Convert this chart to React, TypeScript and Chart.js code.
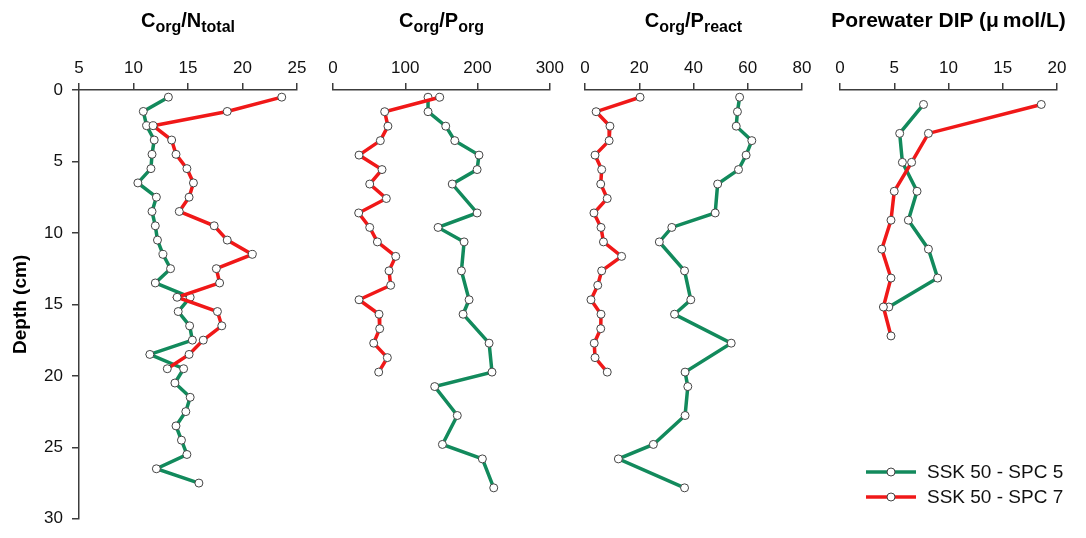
import React, { useEffect, useRef } from "react";
import { Chart, registerables } from "chart.js";

Chart.register(...registerables);

// ---------- data ----------
const cnGreenDepth = [0.5, 1.5, 2.5, 3.5, 4.5, 5.5, 6.5, 7.5, 8.5, 9.5, 10.5, 11.5, 12.5, 13.5, 14.5, 15.5, 16.5, 17.5, 18.5, 19.5, 20.5, 21.5, 22.5, 23.5, 24.5, 25.5, 26.5, 27.5];
const cnGreen = [13.2, 10.9, 11.2, 11.9, 11.7, 11.6, 10.4, 12.1, 11.7, 12.0, 12.2, 12.7, 13.4, 12.0, 15.2, 14.1, 15.15, 15.4, 11.5, 14.6, 13.8, 15.2, 14.8, 13.9, 14.4, 14.9, 12.1, 16.0];
const cnRedDepth = [0.5, 1.5, 2.5, 3.5, 4.5, 5.5, 6.5, 7.5, 8.5, 9.5, 10.5, 11.5, 12.5, 13.5, 14.5, 15.5, 16.5, 17.5, 18.5, 19.5];
const cnRed = [23.6, 18.6, 11.8, 13.5, 13.9, 14.9, 15.5, 15.1, 14.2, 17.4, 18.6, 20.9, 17.6, 17.9, 14.0, 17.7, 18.1, 16.4, 15.1, 13.1];

const cpGreenDepth = [0.5, 1.5, 2.5, 3.5, 4.5, 5.5, 6.5, 8.5, 9.5, 10.5, 12.5, 14.5, 15.5, 17.5, 19.5, 20.5, 22.5, 24.5, 25.5, 27.5];
const cpGreen = [131.5, 131.5, 156, 168.5, 202, 199.4, 165, 199.4, 145.4, 181.4, 177.7, 188.3, 180, 216, 220, 140.7, 172, 151.4, 206.7, 222.4];
const cpRedDepth = [0.5, 1.5, 2.5, 3.5, 4.5, 5.5, 6.5, 7.5, 8.5, 9.5, 10.5, 11.5, 12.5, 13.5, 14.5, 15.5, 16.5, 17.5, 18.5, 19.5];
const cpRed = [147.7, 71.5, 76, 65.5, 36, 67.8, 50.8, 73.8, 35.5, 50.8, 61.4, 86.8, 77.5, 79.8, 36, 63.7, 64.6, 56.3, 75.2, 63.2];

const crGreenDepth = [0.5, 1.5, 2.5, 3.5, 4.5, 5.5, 6.5, 8.5, 9.5, 10.5, 12.5, 14.5, 15.5, 17.5, 19.5, 20.5, 22.5, 24.5, 25.5, 27.5];
const crGreen = [57, 56.2, 55.75, 61.5, 59.4, 56.6, 48.9, 48, 32, 27.4, 36.7, 39, 33, 53.9, 36.9, 37.9, 36.9, 25.2, 12.3, 36.7];
const crRedDepth = [0.5, 1.5, 2.5, 3.5, 4.5, 5.5, 6.5, 7.5, 8.5, 9.5, 10.5, 11.5, 12.5, 13.5, 14.5, 15.5, 16.5, 17.5, 18.5, 19.5];
const crRed = [20.3, 4.1, 9.2, 8.9, 3.7, 6.15, 5.8, 8.2, 3.3, 5.9, 6.8, 13.5, 6.15, 4.7, 2.2, 5.9, 5.8, 3.4, 3.7, 8.2];

const dipGreenDepth = [1, 3, 5, 7, 9, 11, 13, 15];
const dipGreen = [7.7, 5.5, 5.75, 7.1, 6.3, 8.15, 9.0, 4.5];
const dipRedDepth = [1, 3, 5, 7, 9, 11, 13, 15, 17];
const dipRed = [18.55, 8.15, 6.6, 5.0, 4.7, 3.85, 4.7, 4.0, 4.7];

const seriesNames = ["SSK 50 - SPC 5", "SSK 50 - SPC 7"];
const depthTicks = { min: 0, max: 30, step: 5 };

// ---------- styles ----------
const GREEN = "#128a5c";
const RED = "#f01818";
const AXIS = "#3c3c3c";
const FONT = "'Liberation Sans', Arial, Helvetica, sans-serif";
const H = 538;

type Panel = {
  key: string;
  canvasLeft: number;
  canvasWidth: number;
  padL: number;
  padR: number;
  min: number;
  max: number;
  step: number;
  gD: number[];
  gV: number[];
  rD: number[];
  rV: number[];
  showY: boolean;
  legend: boolean;
};

const panels: Panel[] = [
  { key: "cn", canvasLeft: 0, canvasWidth: 315, padL: 0, padR: 18, min: 5, max: 25, step: 5, gD: cnGreenDepth, gV: cnGreen, rD: cnRedDepth, rV: cnRed, showY: true, legend: false },
  { key: "cp", canvasLeft: 315, canvasWidth: 253, padL: 18, padR: 18, min: 0, max: 300, step: 100, gD: cpGreenDepth, gV: cpGreen, rD: cpRedDepth, rV: cpRed, showY: false, legend: false },
  { key: "cr", canvasLeft: 567, canvasWidth: 253, padL: 18, padR: 18, min: 0, max: 80, step: 20, gD: crGreenDepth, gV: crGreen, rD: crRedDepth, rV: crRed, showY: false, legend: false },
  { key: "dip", canvasLeft: 822, canvasWidth: 264, padL: 18, padR: 29, min: 0, max: 20, step: 5, gD: dipGreenDepth, gV: dipGreen, rD: dipRedDepth, rV: dipRed, showY: false, legend: true },
];

const legendPlugin = {
  id: "customLegend",
  afterDraw(chart: any) {
    const opts = chart.options.plugins.customLegend;
    if (!opts || !opts.show) return;
    const ctx = chart.ctx;
    const rows = [
      { color: GREEN, label: seriesNames[0], y: 472 },
      { color: RED, label: seriesNames[1], y: 497 },
    ];
    ctx.save();
    rows.forEach((r) => {
      ctx.strokeStyle = r.color;
      ctx.lineWidth = 3.5;
      ctx.beginPath();
      ctx.moveTo(44, r.y);
      ctx.lineTo(94, r.y);
      ctx.stroke();
      ctx.beginPath();
      ctx.arc(69, r.y, 4, 0, Math.PI * 2);
      ctx.fillStyle = "#ffffff";
      ctx.fill();
      ctx.lineWidth = 1;
      ctx.strokeStyle = "#444";
      ctx.stroke();
      ctx.fillStyle = "#111";
      ctx.font = `19px ${FONT}`;
      ctx.textBaseline = "middle";
      ctx.textAlign = "left";
      ctx.fillText(r.label, 105, r.y + 1);
    });
    ctx.restore();
  },
};

function dataset(depths: number[], values: number[], color: string, label: string, order: number) {
  return {
    label,
    data: depths.map((d, i) => ({ x: values[i], y: d })),
    showLine: true,
    borderColor: color,
    backgroundColor: color,
    borderWidth: 3.5,
    pointRadius: 4,
    pointBackgroundColor: "#ffffff",
    pointBorderColor: "#444444",
    pointBorderWidth: 1,
    order,
  };
}

function PanelChart({ p }: { p: Panel }) {
  const ref = useRef<HTMLCanvasElement | null>(null);
  useEffect(() => {
    if (!ref.current) return;
    const chart = new Chart(ref.current, {
      type: "scatter",
      data: {
        datasets: [
          dataset(p.rD, p.rV, RED, seriesNames[1], 0),
          dataset(p.gD, p.gV, GREEN, seriesNames[0], 1),
        ],
      },
      options: {
        animation: false,
        responsive: false,
        maintainAspectRatio: false,
        layout: { padding: { left: p.padL, right: p.padR, top: 0, bottom: 14 } },
        plugins: {
          legend: { display: false },
          tooltip: { enabled: false },
          // @ts-ignore
          customLegend: { show: p.legend },
        },
        scales: {
          x: {
            type: "linear",
            position: "top",
            min: p.min,
            max: p.max,
            ticks: {
              stepSize: p.step,
              autoSkip: false,
              maxRotation: 0,
              padding: 4,
              color: "#111",
              font: { family: FONT, size: 17 },
            },
            grid: { display: true, drawOnChartArea: false, drawTicks: true, tickLength: 7, color: AXIS, lineWidth: 1.5 },
            border: { display: true, color: AXIS, width: 1.5 },
            afterFit: (s: any) => {
              s.height = 90;
            },
          },
          y: {
            type: "linear",
            display: p.showY,
            reverse: true,
            min: depthTicks.min,
            max: depthTicks.max,
            ticks: {
              stepSize: depthTicks.step,
              padding: 9,
              color: "#111",
              font: { family: FONT, size: 17 },
            },
            grid: { display: true, drawOnChartArea: false, drawTicks: true, tickLength: 7, color: AXIS, lineWidth: 1.5 },
            border: { display: true, color: AXIS, width: 1.5 },
            title: {
              display: true,
              text: "Depth (cm)",
              color: "#000",
              font: { family: FONT, size: 19, weight: "bold" },
              padding: { top: 9, bottom: 0 },
            },
            afterFit: (s: any) => {
              s.width = p.showY ? 79 : 0;
            },
          },
        },
      },
      plugins: [legendPlugin],
    } as any);
    return () => chart.destroy();
  }, [p]);
  return (
    <canvas
      ref={ref}
      width={p.canvasWidth}
      height={H}
      style={{ position: "absolute", left: p.canvasLeft, top: 0, width: p.canvasWidth, height: H }}
    />
  );
}

const titleBox: React.CSSProperties = {
  position: "absolute",
  top: 10,
  textAlign: "center",
  fontFamily: FONT,
  fontWeight: "bold",
  fontSize: 20,
  lineHeight: "20px",
  color: "#000",
  whiteSpace: "nowrap",
};
const subStyle: React.CSSProperties = { fontSize: 16, verticalAlign: "-5px", lineHeight: "0" };

export default function App() {
  const areas = [
    { l: 79, r: 297 },
    { l: 333, r: 550 },
    { l: 585, r: 802 },
    { l: 840, r: 1057 },
  ];
  return (
    <div style={{ position: "fixed", left: 0, top: 0, width: 1086, height: H, background: "#fff", overflow: "hidden" }}>
      {panels.map((p) => (
        <PanelChart key={p.key} p={p} />
      ))}
      <div style={{ ...titleBox, left: areas[0].l, width: areas[0].r - areas[0].l }}>
        C<sub style={subStyle}>org</sub>/N<sub style={subStyle}>total</sub>
      </div>
      <div style={{ ...titleBox, left: areas[1].l, width: areas[1].r - areas[1].l }}>
        C<sub style={subStyle}>org</sub>/P<sub style={subStyle}>org</sub>
      </div>
      <div style={{ ...titleBox, left: areas[2].l, width: areas[2].r - areas[2].l }}>
        C<sub style={subStyle}>org</sub>/P<sub style={subStyle}>react</sub>
      </div>
      <div style={{ ...titleBox, fontSize: 21, left: areas[3].l - 30, width: areas[3].r - areas[3].l + 60 }}>
        Porewater DIP (<span style={{ marginRight: 4 }}>μ</span>mol/L)
      </div>
    </div>
  );
}
